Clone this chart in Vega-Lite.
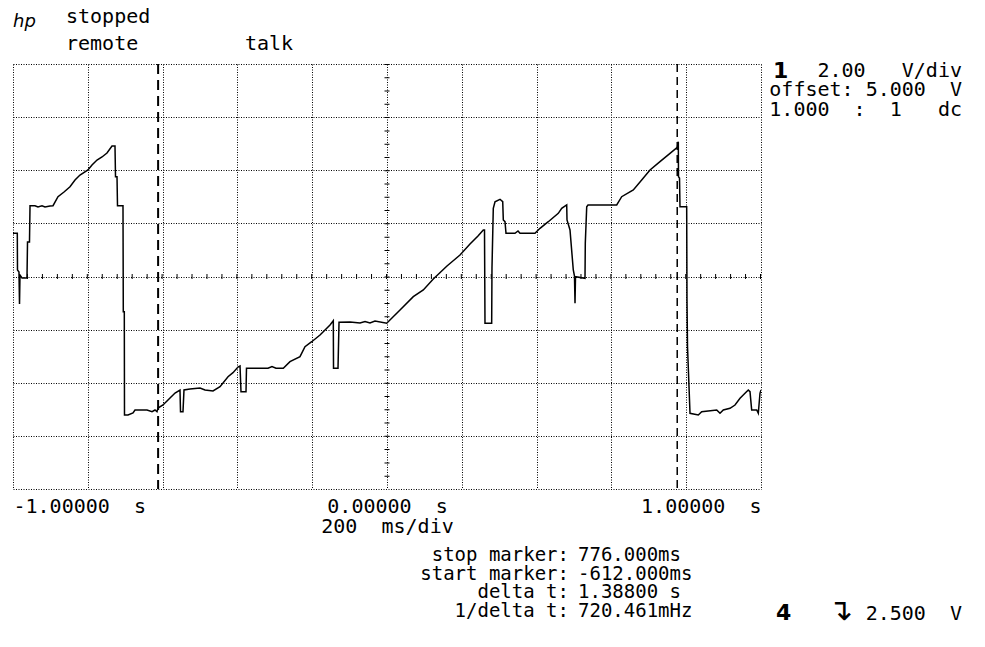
{
  "$schema": "https://vega.github.io/schema/vega-lite/v6.json",
  "autosize": "none",
  "width": 748,
  "height": 425,
  "padding": {"left": 13, "top": 64, "right": 224, "bottom": 158},
  "background": "white",
  "config": {
    "view": {"stroke": null},
    "text": {"font": "DejaVu Sans Mono", "fontSize": 20, "color": "black"}
  },
  "data": {"values": [{}]},
  "datasets": {
    "trace": [
      {"t": -1.0, "v": 6.626}, {"t": -0.9885, "v": 6.626}, {"t": -0.988, "v": 5.245}, {"t": -0.984, "v": 5.169},
      {"t": -0.9826, "v": 3.965}, {"t": -0.9813, "v": 5.056}, {"t": -0.9759, "v": 4.944}, {"t": -0.9626, "v": 4.944},
      {"t": -0.9612, "v": 6.299}, {"t": -0.9559, "v": 6.299}, {"t": -0.9545, "v": 7.665}, {"t": -0.9412, "v": 7.665},
      {"t": -0.9332, "v": 7.617}, {"t": -0.9225, "v": 7.665}, {"t": -0.9144, "v": 7.617}, {"t": -0.9011, "v": 7.654},
      {"t": -0.893, "v": 7.665}, {"t": -0.8797, "v": 8.004}, {"t": -0.8636, "v": 8.181}, {"t": -0.8476, "v": 8.381},
      {"t": -0.8342, "v": 8.633}, {"t": -0.8209, "v": 8.821}, {"t": -0.7995, "v": 9.009}, {"t": -0.7888, "v": 9.198},
      {"t": -0.7754, "v": 9.386}, {"t": -0.762, "v": 9.499}, {"t": -0.7487, "v": 9.649}, {"t": -0.7353, "v": 9.913},
      {"t": -0.7273, "v": 9.913}, {"t": -0.7259, "v": 8.757}, {"t": -0.7219, "v": 8.757}, {"t": -0.7206, "v": 7.665},
      {"t": -0.7059, "v": 7.665}, {"t": -0.7051, "v": 3.675}, {"t": -0.7024, "v": 3.675}, {"t": -0.7019, "v": -0.214},
      {"t": -0.6925, "v": -0.214}, {"t": -0.6791, "v": -0.139}, {"t": -0.6738, "v": -0.026}, {"t": -0.6417, "v": -0.026},
      {"t": -0.6283, "v": -0.09}, {"t": -0.6203, "v": -0.026}, {"t": -0.615, "v": -0.09}, {"t": -0.6123, "v": 0.049},
      {"t": -0.5989, "v": 0.162}, {"t": -0.5802, "v": 0.426}, {"t": -0.5668, "v": 0.614}, {"t": -0.5535, "v": 0.727},
      {"t": -0.5521, "v": -0.09}, {"t": -0.5455, "v": -0.09}, {"t": -0.5428, "v": 0.727}, {"t": -0.5267, "v": 0.765},
      {"t": -0.5, "v": 0.802}, {"t": -0.4866, "v": 0.727}, {"t": -0.4652, "v": 0.689}, {"t": -0.4465, "v": 0.851},
      {"t": -0.4251, "v": 1.228}, {"t": -0.4118, "v": 1.378}, {"t": -0.3984, "v": 1.593}, {"t": -0.393, "v": 1.631},
      {"t": -0.3904, "v": 0.663}, {"t": -0.377, "v": 0.663}, {"t": -0.3757, "v": 1.544}, {"t": -0.3182, "v": 1.544},
      {"t": -0.3075, "v": 1.612}, {"t": -0.2968, "v": 1.544}, {"t": -0.2773, "v": 1.544}, {"t": -0.2594, "v": 1.793},
      {"t": -0.2326, "v": 1.981}, {"t": -0.2193, "v": 2.357}, {"t": -0.2013, "v": 2.545}, {"t": -0.1791, "v": 2.798},
      {"t": -0.1524, "v": 3.174}, {"t": -0.1436, "v": 3.336}, {"t": -0.143, "v": 1.544}, {"t": -0.131, "v": 1.544},
      {"t": -0.1283, "v": 3.276}, {"t": -0.0989, "v": 3.287}, {"t": -0.0722, "v": 3.249}, {"t": -0.0588, "v": 3.306},
      {"t": -0.0455, "v": 3.249}, {"t": -0.0321, "v": 3.325}, {"t": -0.0008, "v": 3.238}, {"t": 0.0348, "v": 3.739},
      {"t": 0.0703, "v": 4.24}, {"t": 0.0971, "v": 4.492}, {"t": 0.1238, "v": 4.906}, {"t": 0.1604, "v": 5.395},
      {"t": 0.1952, "v": 5.809}, {"t": 0.2219, "v": 6.224}, {"t": 0.2433, "v": 6.525}, {"t": 0.2575, "v": 6.751},
      {"t": 0.2607, "v": 6.751}, {"t": 0.262, "v": 3.238}, {"t": 0.2799, "v": 3.238}, {"t": 0.2807, "v": 5.32},
      {"t": 0.2842, "v": 7.567}, {"t": 0.2888, "v": 7.816}, {"t": 0.3021, "v": 7.906}, {"t": 0.3094, "v": 7.816},
      {"t": 0.311, "v": 7.127}, {"t": 0.3155, "v": 7.063}, {"t": 0.3182, "v": 6.626}, {"t": 0.3422, "v": 6.626},
      {"t": 0.3503, "v": 6.713}, {"t": 0.3556, "v": 6.626}, {"t": 0.3957, "v": 6.626}, {"t": 0.4091, "v": 6.815},
      {"t": 0.4313, "v": 7.063}, {"t": 0.458, "v": 7.379}, {"t": 0.4671, "v": 7.567}, {"t": 0.4805, "v": 7.692},
      {"t": 0.4813, "v": 7.127}, {"t": 0.4893, "v": 6.751}, {"t": 0.4981, "v": 5.245}, {"t": 0.5013, "v": 5.019},
      {"t": 0.5027, "v": 3.991}, {"t": 0.504, "v": 4.992}, {"t": 0.5294, "v": 4.932}, {"t": 0.5302, "v": 6.25},
      {"t": 0.534, "v": 7.628}, {"t": 0.5374, "v": 7.692}, {"t": 0.6142, "v": 7.692}, {"t": 0.6275, "v": 8.004},
      {"t": 0.6586, "v": 8.256}, {"t": 0.681, "v": 8.633}, {"t": 0.7032, "v": 9.009}, {"t": 0.7299, "v": 9.322},
      {"t": 0.7567, "v": 9.638}, {"t": 0.7762, "v": 9.864}, {"t": 0.7789, "v": 10.075}, {"t": 0.7794, "v": 8.757},
      {"t": 0.7821, "v": 8.708}, {"t": 0.7834, "v": 7.628}, {"t": 0.8013, "v": 7.628}, {"t": 0.8021, "v": 4.115},
      {"t": 0.8035, "v": 2.357}, {"t": 0.8102, "v": -0.15}, {"t": 0.8324, "v": -0.214}, {"t": 0.8414, "v": -0.09},
      {"t": 0.8816, "v": -0.026}, {"t": 0.8904, "v": -0.15}, {"t": 0.8992, "v": -0.026}, {"t": 0.9171, "v": 0.038},
      {"t": 0.9305, "v": 0.162}, {"t": 0.9439, "v": 0.415}, {"t": 0.9572, "v": 0.603}, {"t": 0.966, "v": 0.727},
      {"t": 0.9706, "v": 0.663}, {"t": 0.9751, "v": -0.026}, {"t": 0.9885, "v": -0.026}, {"t": 0.9928, "v": -0.15},
      {"t": 0.9973, "v": 0.603}, {"t": 1.0, "v": 0.727}
    ]
  },
  "layer": [
    {
      "data": {"name": "trace"},
      "mark": {"type": "line", "color": "black", "strokeWidth": 1.5, "interpolate": "linear", "clip": true},
      "encoding": {
        "x": {
          "field": "t", "type": "quantitative",
          "scale": {"domain": [-1, 1], "nice": false, "zero": false},
          "axis": {
            "values": [-1, -0.8, -0.6, -0.4, -0.2, 0, 0.2, 0.4, 0.6, 0.8, 1],
            "grid": true, "gridColor": "black", "gridOpacity": 1, "gridWidth": 1, "gridDash": [1, 1.5],
            "ticks": false, "domain": false,
            "labelExpr": "datum.value == -1 ? '-1.00000\u00a0\u00a0s' : datum.value == 0 ? '0.00000\u00a0\u00a0s' : datum.value == 1 ? '1.00000\u00a0\u00a0s' : ''",
            "labelFlush": true, "labelOverlap": false, "labelBound": false,
            "labelFont": "DejaVu Sans Mono", "labelFontSize": 20, "labelColor": "black",
            "labelBaseline": "alphabetic", "labelPadding": 23,
            "title": "200\u00a0\u00a0ms/div", "titleFont": "DejaVu Sans Mono", "titleFontSize": 20,
            "titleFontWeight": "normal", "titleColor": "black", "titlePadding": 0
          }
        },
        "y": {
          "field": "v", "type": "quantitative",
          "scale": {"domain": [-3, 13], "nice": false, "zero": false},
          "axis": {
            "values": [-3, -1, 1, 3, 5, 7, 9, 11, 13],
            "grid": true, "gridColor": "black", "gridOpacity": 1, "gridWidth": 1, "gridDash": [1, 1.5],
            "ticks": false, "domain": false, "labels": false, "title": null
          }
        }
      }
    },
    {
      "mark": {"type": "rule", "color": "black", "strokeWidth": 5, "strokeDash": [1, 12.28]},
      "encoding": {"x": {"datum": 0}}
    },
    {
      "mark": {"type": "rule", "color": "black", "strokeWidth": 5, "strokeDash": [1, 13.96]},
      "encoding": {"y": {"datum": 5}}
    },
    {
      "mark": {"type": "rule", "color": "black", "strokeWidth": 2, "strokeDash": [10, 6]},
      "encoding": {"x": {"datum": -0.612}}
    },
    {
      "mark": {"type": "rule", "color": "black", "strokeWidth": 1.5, "strokeDash": [8, 5]},
      "encoding": {"x": {"datum": 0.776}}
    },
    {
      "mark": {"type": "text", "align": "left", "baseline": "alphabetic", "font": "DejaVu Sans", "fontStyle": "italic", "fontSize": 18},
      "encoding": {"x": {"datum": -1.0}, "y": {"datum": 14.393}, "text": {"value": "hp"}}
    },
    {
      "mark": {"type": "text", "align": "left", "baseline": "alphabetic", "lineHeight": 26.5},
      "encoding": {"x": {"datum": -0.8583}, "y": {"datum": 14.525}, "text": {"value": ["stopped", "remote"]}}
    },
    {
      "mark": {"type": "text", "align": "left", "baseline": "alphabetic"},
      "encoding": {"x": {"datum": -0.3797}, "y": {"datum": 13.527}, "text": {"value": "talk"}}
    },
    {
      "mark": {"type": "text", "align": "left", "baseline": "alphabetic", "font": "DejaVu Sans", "fontWeight": "bold", "fontSize": 22},
      "encoding": {"x": {"datum": 1.0321}, "y": {"datum": 12.473}, "text": {"value": "1"}}
    },
    {
      "mark": {"type": "text", "align": "right", "baseline": "alphabetic", "lineHeight": 19.5},
      "encoding": {"x": {"datum": 1.5374}, "y": {"datum": 12.511}, "text": {"value": ["2.00\u00a0\u00a0\u00a0V/div", "offset:\u00a05.000\u00a0\u00a0V", "1.000\u00a0\u00a0:\u00a0\u00a01\u00a0\u00a0\u00a0dc"]}}
    },
    {
      "mark": {"type": "text", "align": "right", "baseline": "alphabetic", "lineHeight": 18.7, "fontSize": 19},
      "encoding": {"x": {"datum": 0.4866}, "y": {"datum": -5.711}, "text": {"value": ["stop\u00a0marker:", "start\u00a0marker:", "delta\u00a0t:", "1/delta\u00a0t:"]}}
    },
    {
      "mark": {"type": "text", "align": "left", "baseline": "alphabetic", "lineHeight": 18.7, "fontSize": 19},
      "encoding": {"x": {"datum": 0.5107}, "y": {"datum": -5.711}, "text": {"value": ["776.000ms", "-612.000ms", "1.38800\u00a0s", "720.461mHz"]}}
    },
    {
      "mark": {"type": "text", "align": "left", "baseline": "alphabetic", "font": "DejaVu Sans", "fontWeight": "bold", "fontSize": 22},
      "encoding": {"x": {"datum": 1.0401}, "y": {"datum": -7.932}, "text": {"value": "4"}}
    },
    {
      "mark": {"type": "text", "align": "left", "baseline": "alphabetic", "font": "DejaVu Sans", "fontSize": 30},
      "encoding": {"x": {"datum": 1.1791}, "y": {"datum": -7.932}, "text": {"value": "↴"}}
    },
    {
      "mark": {"type": "text", "align": "right", "baseline": "alphabetic"},
      "encoding": {"x": {"datum": 1.5374}, "y": {"datum": -7.932}, "text": {"value": "2.500\u00a0\u00a0V"}}
    }
  ]
}
